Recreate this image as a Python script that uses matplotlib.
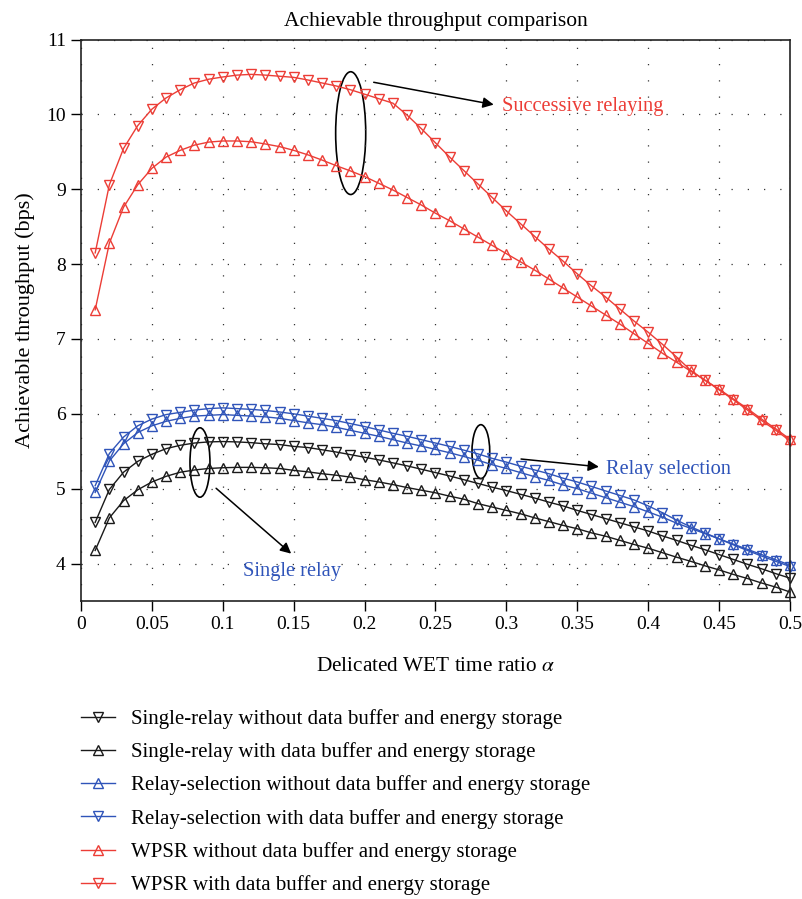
import numpy as np
import matplotlib
matplotlib.use("Agg")
import matplotlib.pyplot as plt
from matplotlib.patches import Ellipse

plt.rcParams['font.family'] = ['Liberation Serif', 'DejaVu Serif']
plt.rcParams['mathtext.fontset'] = 'stix'

# WET time ratio grid used in the simulation
alpha = np.round(np.arange(1, 51) * 0.01, 2)

single_no_buf = [4.55, 4.99, 5.22, 5.365, 5.46, 5.535, 5.58, 5.61, 5.625, 5.63,
                 5.625, 5.615, 5.60, 5.59, 5.565, 5.55, 5.52, 5.49, 5.455, 5.42,
                 5.385, 5.345, 5.305, 5.26, 5.215, 5.17, 5.12, 5.07, 5.02, 4.975,
                 4.925, 4.875, 4.82, 4.77, 4.71, 4.655, 4.60, 4.545, 4.49, 4.435,
                 4.37, 4.31, 4.245, 4.185, 4.12, 4.055, 3.99, 3.93, 3.865, 3.805]
single_buf = [4.175, 4.61, 4.84, 4.985, 5.09, 5.165, 5.22, 5.25, 5.27, 5.28,
              5.285, 5.285, 5.28, 5.27, 5.245, 5.225, 5.20, 5.18, 5.155, 5.12,
              5.09, 5.055, 5.015, 4.98, 4.945, 4.90, 4.86, 4.80, 4.755, 4.71,
              4.665, 4.61, 4.56, 4.51, 4.465, 4.41, 4.365, 4.31, 4.255, 4.205,
              4.145, 4.085, 4.03, 3.97, 3.915, 3.855, 3.80, 3.74, 3.685, 3.62]
relay_sel_no_buf = [4.95, 5.37, 5.60, 5.75, 5.84, 5.90, 5.94, 5.97, 5.98, 5.99,
                    5.98, 5.97, 5.96, 5.94, 5.91, 5.88, 5.855, 5.82, 5.78, 5.74,
                    5.70, 5.655, 5.61, 5.57, 5.525, 5.48, 5.43, 5.38, 5.32, 5.27,
                    5.215, 5.16, 5.11, 5.05, 5.00, 4.94, 4.88, 4.82, 4.76, 4.69,
                    4.62, 4.54, 4.47, 4.40, 4.33, 4.26, 4.19, 4.12, 4.05, 3.98]
relay_sel_buf = [5.04, 5.47, 5.69, 5.84, 5.93, 5.99, 6.02, 6.05, 6.07, 6.08,
                 6.07, 6.06, 6.045, 6.025, 6.00, 5.97, 5.94, 5.91, 5.87, 5.83,
                 5.785, 5.74, 5.70, 5.655, 5.61, 5.565, 5.515, 5.465, 5.405, 5.355,
                 5.30, 5.25, 5.20, 5.14, 5.09, 5.03, 4.97, 4.91, 4.85, 4.77,
                 4.68, 4.58, 4.49, 4.41, 4.33, 4.25, 4.175, 4.10, 4.03, 3.96]
wpsr_no_buf = [7.39, 8.28, 8.76, 9.06, 9.28, 9.43, 9.52, 9.59, 9.63, 9.645,
               9.645, 9.635, 9.605, 9.57, 9.52, 9.46, 9.39, 9.315, 9.245, 9.17,
               9.08, 8.99, 8.89, 8.79, 8.68, 8.58, 8.47, 8.36, 8.25, 8.14,
               8.03, 7.92, 7.80, 7.68, 7.56, 7.44, 7.32, 7.20, 7.07, 6.94,
               6.81, 6.69, 6.57, 6.45, 6.33, 6.20, 6.07, 5.93, 5.80, 5.66]
wpsr_buf = [8.15, 9.06, 9.545, 9.85, 10.07, 10.22, 10.33, 10.42, 10.47, 10.50,
            10.525, 10.535, 10.525, 10.51, 10.495, 10.46, 10.42, 10.38, 10.33, 10.27,
            10.21, 10.15, 9.99, 9.81, 9.62, 9.43, 9.25, 9.07, 8.89, 8.71,
            8.54, 8.37, 8.20, 8.04, 7.87, 7.71, 7.56, 7.40, 7.24, 7.09,
            6.93, 6.76, 6.58, 6.45, 6.32, 6.19, 6.05, 5.91, 5.78, 5.64]

labels = ['Single-relay without data buffer and energy storage',
          'Single-relay with data buffer and energy storage',
          'Relay-selection without data buffer and energy storage',
          'Relay-selection with data buffer and energy storage',
          'WPSR without data buffer and energy storage',
          'WPSR with data buffer and energy storage']

BLACK = '#1a1a1a'
BLUE = '#2f54b9'
RED = '#ec3d36'

series = [(single_no_buf, BLACK, 'v'), (single_buf, BLACK, '^'),
          (relay_sel_no_buf, BLUE, '^'), (relay_sel_buf, BLUE, 'v'),
          (wpsr_no_buf, RED, '^'), (wpsr_buf, RED, 'v')]

fig = plt.figure(figsize=(8.02, 8.99), dpi=100)
ax = fig.add_axes([0.101, 0.3315, 0.884, 0.6245])

handles = []
for (vals, col, mk), lab in zip(series, labels):
    h, = ax.plot(alpha, vals, color=col, marker=mk, markersize=6.5,
                 markerfacecolor='none', markeredgecolor=col, markeredgewidth=1.0,
                 linewidth=1.0, label=lab, clip_on=False)
    handles.append(h)

ax.set_xlim(0, 0.5)
ax.set_ylim(3.5, 11)
xt = np.round(np.arange(0, 0.51, 0.05), 2)
ax.set_xticks(xt)
ax.set_xticklabels(['0' if v == 0 else f'{v:g}' for v in xt])
ax.set_yticks(range(4, 12))
ax.tick_params(axis='both', direction='out', length=7, width=1, labelsize=14,
               top=False, right=False, pad=4)
for s in ax.spines.values():
    s.set_linewidth(1.2)
    s.set_color('#222222')
ax.grid(True, color='#333333', linestyle=(0, (1, 12)), linewidth=0.9)

ax.set_title('Achievable throughput comparison', fontsize=15.5, pad=10)
ax.set_xlabel(r'Delicated WET time ratio $\alpha$', fontsize=15.3, labelpad=17)
ax.set_ylabel('Achievable throughput (bps)', fontsize=16, labelpad=8)

# group markers: ellipses with arrows pointing to the scheme names
ax.add_patch(Ellipse((0.1902, 9.75), 0.0212, 1.64, fill=False, color='black', lw=1.2))
ax.annotate('', xy=(0.293, 10.124), xytext=(0.2045, 10.436),
            arrowprops=dict(arrowstyle='-|>', color='black', lw=1.1, mutation_scale=16))
ax.text(0.2967, 10.11, 'Successive relaying', color=RED, fontsize=14.7, va='center', ha='left')

ax.add_patch(Ellipse((0.282, 5.495), 0.0125, 0.72, fill=False, color='black', lw=1.2))
ax.annotate('', xy=(0.3672, 5.289), xytext=(0.3084, 5.40),
            arrowprops=dict(arrowstyle='-|>', color='black', lw=1.1, mutation_scale=16))
ax.text(0.3702, 5.258, 'Relay selection', color=BLUE, fontsize=14.7, va='center', ha='left')

ax.add_patch(Ellipse((0.0839, 5.35), 0.0141, 0.927, fill=False, color='black', lw=1.2))
ax.annotate('', xy=(0.1497, 4.108), xytext=(0.0938, 5.03),
            arrowprops=dict(arrowstyle='-|>', color='black', lw=1.1, mutation_scale=16))
ax.text(0.114, 3.895, 'Single relay', color=BLUE, fontsize=14.7, va='center', ha='left')

fig.legend(handles=handles, loc='upper left', bbox_to_anchor=(0.09, 0.2205),
           frameon=False, fontsize=15, handlelength=1.65, handletextpad=0.75,
           labelspacing=0.64, borderaxespad=0)

fig.savefig('out.png', dpi=100)
